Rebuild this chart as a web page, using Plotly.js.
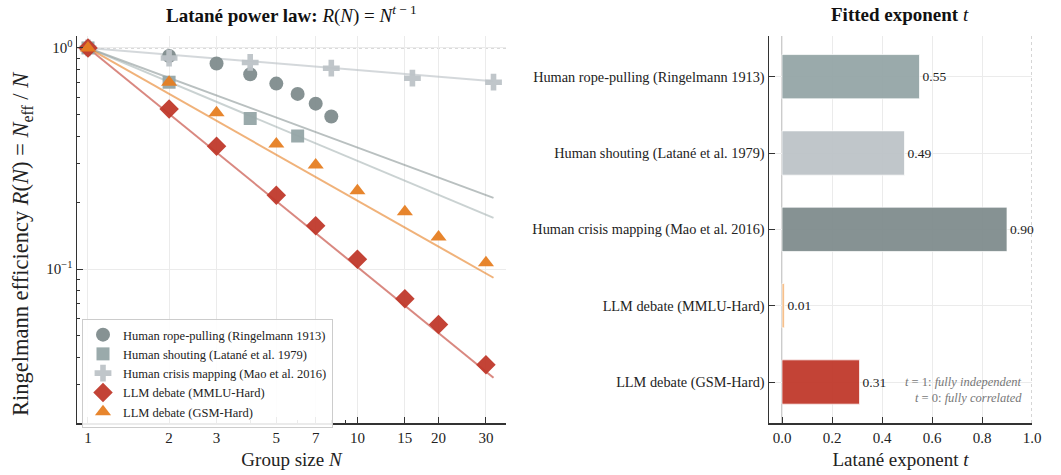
<!DOCTYPE html>
<html>
<head>
<meta charset="utf-8">
<script src="https://cdn.plot.ly/plotly-3.0.1.min.js"></script>
<style>html,body{margin:0;padding:0;background:#fff;}</style>
</head>
<body>
<div id="chart" style="width:1061px;height:475px;"></div>
<script>
// ---- data ----
const seriesNames = [
  "Human rope-pulling (Ringelmann 1913)",
  "Human shouting (Latané et al. 1979)",
  "Human crisis mapping (Mao et al. 2016)",
  "LLM debate (MMLU-Hard)",
  "LLM debate (GSM-Hard)"
];
const ropeN = [1, 2, 3, 4, 5, 6, 7, 8];
const ropeR = [1.0, 0.92, 0.85, 0.76, 0.69, 0.62, 0.56, 0.49];
const shoutN = [1, 2, 4, 6];
const shoutR = [1.0, 0.70, 0.48, 0.40];
const crisisN = [1, 2, 4, 8, 16, 32];
const crisisR = [1.0, 0.90, 0.86, 0.81, 0.73, 0.70];
const mmluN = [1, 2, 3, 5, 7, 10, 15, 20, 30];
const mmluR = [1.0, 0.53, 0.36, 0.216, 0.157, 0.111, 0.0736, 0.0562, 0.037];
const gsmN = [1, 2, 3, 5, 7, 10, 15, 20, 30];
const gsmR = [1.0, 0.70, 0.51, 0.368, 0.296, 0.226, 0.182, 0.14, 0.107];
// fitted exponents (line fits on left panel)
const fitT = [0.55, 0.49, 0.90, 0.01, 0.31];
const fitRange = [1, 32];
// right panel bars
const barLabels = seriesNames;
const barValues = [0.55, 0.49, 0.90, 0.01, 0.31];
const barText = ["0.55", "0.49", "0.90", "0.01", "0.31"];
const xTickVals = [1, 2, 3, 5, 7, 10, 15, 20, 30];

// ---- styles ----
const markerColors = ["#7f8c8d", "#95a5a6", "#bdc3c7", "#c0392b", "#e67e22"];
const lineColors = ["rgba(127,140,141,0.55)", "rgba(149,165,166,0.5)", "rgba(189,195,199,0.65)", "rgba(192,57,43,0.6)", "rgba(230,126,34,0.6)"];
const symbols = ["circle", "square", "cross", "diamond", "triangle-up"];
const sizes = [14, 13, 14, 15, 14];
const barColors = ["rgba(149,165,166,0.95)", "rgba(189,195,199,0.95)", "rgba(127,140,141,0.95)", "rgba(245,185,128,0.9)", "rgba(192,57,43,0.95)"];

const FONT = "Liberation Serif, Times New Roman, serif";
const ptsN = [ropeN, shoutN, crisisN, mmluN, gsmN];
const ptsR = [ropeR, shoutR, crisisR, mmluR, gsmR];

const traces = [];
// fit lines
for (let i = 0; i < 5; i++) {
  traces.push({
    x: fitRange, y: fitRange.map(n => Math.pow(n, fitT[i] - 1)),
    mode: "lines", type: "scatter", xaxis: "x", yaxis: "y",
    line: {color: lineColors[i], width: 2}, showlegend: false, hoverinfo: "skip"
  });
}
// markers
for (let i = 0; i < 5; i++) {
  traces.push({
    x: ptsN[i], y: ptsR[i], name: seriesNames[i],
    mode: "markers", type: "scatter", xaxis: "x", yaxis: "y",
    marker: {symbol: symbols[i], size: sizes[i], color: markerColors[i], opacity: 0.95, line: {width: 0}}
  });
}
// bars
traces.push({
  type: "bar", orientation: "h", x: barValues, y: barLabels,
  xaxis: "x2", yaxis: "y2", width: 0.58,
  marker: {color: barColors, line: {color: "rgba(255,255,255,0.7)", width: 1}},
  text: barText, textposition: "outside", cliponaxis: false,
  textfont: {family: FONT, size: 13.5, color: "#222"},
  showlegend: false, hoverinfo: "skip"
});

const yDom = [1 - 423/475, 1 - 36/475];
const TICKF = {family: FONT, size: 15, color: "#222"};
const layout = {
  width: 1061, height: 475,
  margin: {l: 0, r: 0, t: 0, b: 0},
  paper_bgcolor: "#fff", plot_bgcolor: "#fff",
  font: {family: FONT, size: 13, color: "#222"},
  showlegend: true,
  legend: {
    x: 82/1061, y: 1 - 319/475, xanchor: "left", yanchor: "top",
    bgcolor: "rgba(255,255,255,0.9)", bordercolor: "#cccccc", borderwidth: 1,
    font: {family: FONT, size: 12.5, color: "#222"},
    tracegroupgap: 0
  },
  xaxis: {
    domain: [77/1061, 506/1061], type: "log", range: [-0.0408, 1.5515],
    tickmode: "array", tickvals: xTickVals, ticktext: xTickVals.map(String),
    ticks: "inside", ticklen: 6, tickwidth: 1, tickcolor: "#333",
    minor: {tickvals: [4, 6, 8, 9], ticks: "inside", ticklen: 3, tickcolor: "#333", showgrid: false},
    showline: true, linecolor: "#333", linewidth: 1.5,
    showgrid: true, gridcolor: "#ebebeb", gridwidth: 1, zeroline: false,
    tickfont: TICKF,
    title: {text: "Group size <i>N</i>", font: {family: FONT, size: 19, color: "#222"}, standoff: 8},
    automargin: false
  },
  yaxis: {
    domain: yDom, type: "log", range: [-1.695, 0.054],
    tickmode: "array", tickvals: [0.1, 1], ticktext: ["10<sup>−1</sup>", "10<sup>0</sup>"],
    ticks: "inside", ticklen: 6, tickwidth: 1, tickcolor: "#333",
    minor: {tickvals: [0.03,0.04,0.05,0.06,0.07,0.08,0.09,0.2,0.3,0.4,0.5,0.6,0.7,0.8,0.9], ticks: "inside", ticklen: 3, tickcolor: "#333", showgrid: false},
    showline: true, linecolor: "#333", linewidth: 1.5,
    showgrid: true, gridcolor: "#ebebeb", gridwidth: 1, zeroline: false,
    tickfont: TICKF,
    automargin: false
  },
  xaxis2: {
    domain: [769/1061, 1032/1061], range: [-0.052, 1.0],
    tickmode: "array", tickvals: [0, 0.2, 0.4, 0.6, 0.8, 1.0], ticktext: ["0.0", "0.2", "0.4", "0.6", "0.8", "1.0"],
    ticks: "inside", ticklen: 6, tickwidth: 1, tickcolor: "#333",
    showline: true, linecolor: "#333", linewidth: 1.5,
    showgrid: true, gridcolor: "#ebebeb", gridwidth: 1, zeroline: false,
    tickfont: TICKF,
    title: {text: "Latané exponent <i>t</i>", font: {family: FONT, size: 19, color: "#222"}, standoff: 8},
    anchor: "y2", automargin: false
  },
  yaxis2: {
    domain: yDom, type: "category", categoryorder: "array", categoryarray: barLabels,
    range: [4.537, -0.533],
    ticks: "inside", ticklen: 6, tickwidth: 1, tickcolor: "#333",
    showline: true, linecolor: "#333", linewidth: 1.5,
    showgrid: true, gridcolor: "#ebebeb", gridwidth: 1, zeroline: false,
    tickfont: {family: FONT, size: 14.3, color: "#222"},
    anchor: "x2", automargin: false
  },
  shapes: [
    {type: "line", xref: "x domain", yref: "y", x0: 0, x1: 1, y0: 1, y1: 1, line: {color: "#aaaaaa", width: 1, dash: "dot"}, layer: "below"},
    {type: "line", xref: "x2", yref: "y2 domain", x0: 0, x1: 0, y0: 0, y1: 1, line: {color: "#bbbbbb", width: 1.5}, layer: "below"},
    {type: "line", xref: "x2", yref: "y2 domain", x0: 1, x1: 1, y0: 0, y1: 1, line: {color: "#aaaaaa", width: 1, dash: "dot"}, layer: "below"}
  ],
  annotations: [
    {xref: "paper", yref: "paper", x: 291/1061, y: 1 - 15/475, xanchor: "center", yanchor: "middle", showarrow: false,
     text: "<b>Latané power law:</b> <i>R</i>(<i>N</i>) = <i>N</i><sup><i>t</i> − 1</sup>", font: {family: FONT, size: 19, color: "#111"}},
    {xref: "paper", yref: "paper", x: 900/1061, y: 1 - 15/475, xanchor: "center", yanchor: "middle", showarrow: false,
     text: "<b>Fitted exponent</b> <i>t</i>", font: {family: FONT, size: 19, color: "#111"}},
    {xref: "paper", yref: "paper", x: 22/1061, y: 1 - 244/475, xanchor: "center", yanchor: "middle", showarrow: false, textangle: -90,
     text: "Ringelmann efficiency <i>R</i>(<i>N</i>) = <i>N</i><sub>eff</sub> / <i>N</i>", font: {family: FONT, size: 22.5, color: "#222"}},
    {xref: "paper", yref: "paper", x: 1024/1061, y: 1 - 382/475, xanchor: "right", yanchor: "middle", showarrow: false,
     text: "<i>t</i> = 1: <i>fully independent</i>", font: {family: FONT, size: 12.5, color: "#777"}},
    {xref: "paper", yref: "paper", x: 1024/1061, y: 1 - 398/475, xanchor: "right", yanchor: "middle", showarrow: false,
     text: "<i>t</i> = 0: <i>fully correlated</i>", font: {family: FONT, size: 12.5, color: "#777"}}
  ]
};

Plotly.newPlot("chart", traces, layout, {displayModeBar: false, staticPlot: true});
</script>
</body>
</html>
